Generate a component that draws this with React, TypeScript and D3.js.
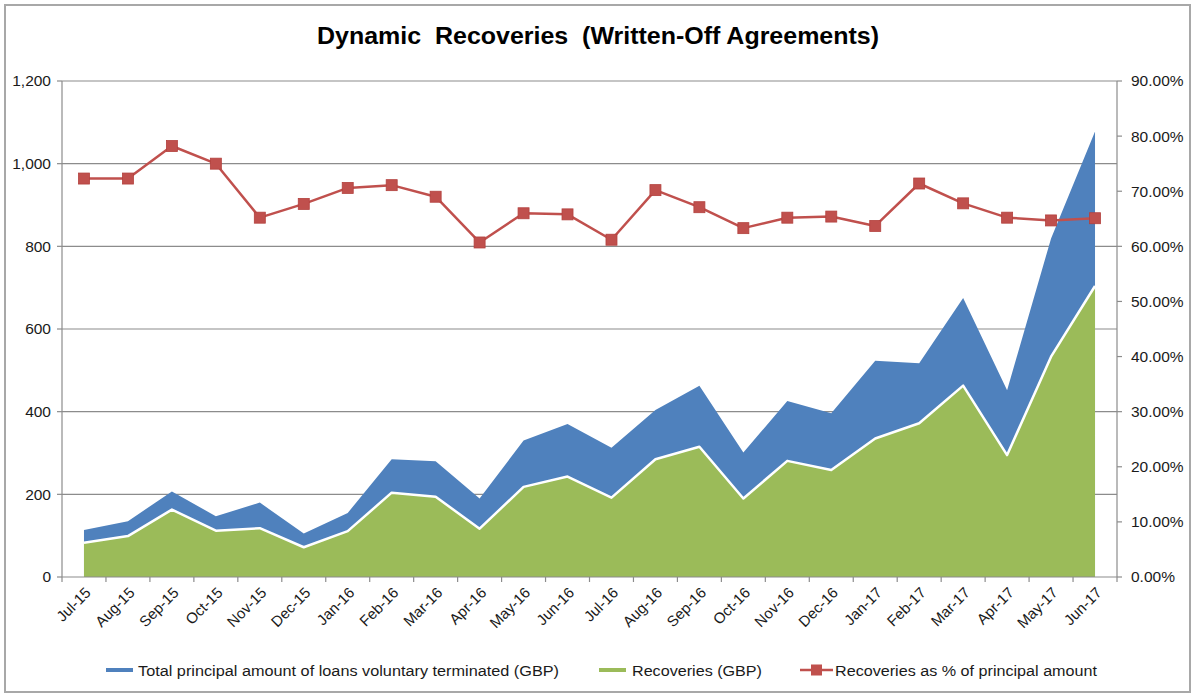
import React from "react";
import * as d3 from "d3";

const months = [
  "Jul-15", "Aug-15", "Sep-15", "Oct-15", "Nov-15", "Dec-15",
  "Jan-16", "Feb-16", "Mar-16", "Apr-16", "May-16", "Jun-16",
  "Jul-16", "Aug-16", "Sep-16", "Oct-16", "Nov-16", "Dec-16",
  "Jan-17", "Feb-17", "Mar-17", "Apr-17", "May-17", "Jun-17",
];
const totalPrincipal = [114, 135, 207, 147, 180, 105, 155, 285, 280, 190, 330, 370, 313, 404, 463, 301, 426, 396, 523, 517, 675, 452, 819, 1078];
const recoveries = [83, 99, 163, 112, 118, 72, 111, 204, 194, 117, 218, 243, 192, 285, 315, 190, 281, 259, 335, 372, 463, 295, 533, 704];
const recoveryPct = [72.3, 72.3, 78.2, 75.0, 65.2, 67.7, 70.6, 71.1, 69.0, 60.7, 66.0, 65.8, 61.2, 70.2, 67.1, 63.3, 65.2, 65.4, 63.7, 71.4, 67.8, 65.2, 64.7, 65.1];
const leftTicks = [0, 200, 400, 600, 800, 1000, 1200];
const rightTicks = [0, 10, 20, 30, 40, 50, 60, 70, 80, 90];
const seriesNames = [
  "Total principal amount of loans voluntary terminated (GBP)",
  "Recoveries (GBP)",
  "Recoveries as % of principal amount",
];
const title = "Dynamic\u00a0 Recoveries\u00a0 (Written-Off Agreements)";

const FONT = "'Liberation Sans', Arial, sans-serif";
const BLUE = "#4F81BD";
const GREEN = "#9BBB59";
const RED = "#C0504D";
const GRID = "#8C8C8C";
const TXT = "#1a1a1a";

export default function App() {
  const left = 62, right = 1117, top = 81, bottom = 577;
  const x = d3.scaleBand<string>().domain(months).range([left, right]);
  const cx = (i: number) => (x(months[i]) as number) + x.bandwidth() / 2;
  const yL = d3.scaleLinear().domain([0, 1200]).range([bottom, top]);
  const yR = d3.scaleLinear().domain([0, 90]).range([bottom, top]);

  const area = d3.area<number>().x((_, i) => cx(i)).y0(bottom).y1((d) => yL(d));
  const topLine = d3.line<number>().x((_, i) => cx(i)).y((d) => yL(d));
  const pctLine = d3.line<number>().x((_, i) => cx(i)).y((d) => yR(d));
  const fmtL = d3.format(",");

  const edges = months.map((m) => x(m) as number).concat([right]);

  return (
    <svg width={1197} height={695} style={{ position: "absolute", left: 0, top: 0, background: "#fff" }} fontFamily={FONT}>
      <rect x={0} y={0} width={1197} height={695} fill="#fff" />
      <rect x={5} y={5} width={1185} height={687} fill="none" stroke="#A8A8A8" strokeWidth={2} />
      <text x={598} y={44} textAnchor="middle" fontSize={23} fontWeight="bold" fill="#000" textLength={562} lengthAdjust="spacingAndGlyphs">{title}</text>

      {/* gridlines */}
      {leftTicks.filter((t) => t > 0).map((t) => (
        <line key={"g" + t} x1={left} x2={right} y1={yL(t)} y2={yL(t)} stroke={GRID} strokeWidth={1.2} />
      ))}

      {/* areas */}
      <path d={area(totalPrincipal) as string} fill={BLUE} />
      <path d={area(recoveries) as string} fill={GREEN} />
      <path d={topLine(recoveries) as string} fill="none" stroke="#fff" strokeWidth={2.5} strokeLinejoin="round" />

      {/* axes */}
      <line x1={left} x2={left} y1={top} y2={bottom} stroke={GRID} strokeWidth={1.2} />
      <line x1={right} x2={right} y1={top} y2={bottom} stroke={GRID} strokeWidth={1.2} />
      <line x1={left} x2={right} y1={bottom} y2={bottom} stroke={GRID} strokeWidth={1.2} />
      {leftTicks.map((t) => (
        <g key={"l" + t}>
          <line x1={left - 5} x2={left} y1={yL(t)} y2={yL(t)} stroke={GRID} strokeWidth={1.2} />
          <text x={51} y={yL(t)} dy="0.35em" textAnchor="end" fontSize={15.5} fill={TXT}>{fmtL(t)}</text>
        </g>
      ))}
      {rightTicks.map((t) => (
        <g key={"r" + t}>
          <line x1={right} x2={right + 5} y1={yR(t)} y2={yR(t)} stroke={GRID} strokeWidth={1.2} />
          <text x={1131} y={yR(t)} dy="0.35em" textAnchor="start" fontSize={15.5} fill={TXT}>{t.toFixed(2) + "%"}</text>
        </g>
      ))}
      {edges.map((e, i) => (
        <line key={"t" + i} x1={e} x2={e} y1={bottom} y2={bottom + 5} stroke={GRID} strokeWidth={1.2} />
      ))}
      {months.map((m, i) => (
        <text key={"x" + m} transform={`translate(${cx(i) + 4},${bottom + 13}) rotate(-45)`} textAnchor="end" dy="0.35em" fontSize={15} fill={TXT}>{m}</text>
      ))}

      {/* percentage line */}
      <path d={pctLine(recoveryPct) as string} fill="none" stroke={RED} strokeWidth={2.5} strokeLinejoin="round" />
      {recoveryPct.map((p, i) => (
        <rect key={"m" + i} x={cx(i) - 5.5} y={yR(p) - 5.5} width={11} height={11} fill={RED} stroke="#B3413E" strokeWidth={0.8} />
      ))}

      {/* legend */}
      <line x1={106} x2={133} y1={670} y2={670} stroke={BLUE} strokeWidth={4} />
      <text x={138} y={676} fontSize={15.5} fill={TXT} textLength={421} lengthAdjust="spacingAndGlyphs">{seriesNames[0]}</text>
      <line x1={599} x2={626} y1={670} y2={670} stroke={GREEN} strokeWidth={4} />
      <text x={632} y={676} fontSize={15.5} fill={TXT} textLength={130} lengthAdjust="spacingAndGlyphs">{seriesNames[1]}</text>
      <line x1={800} x2={833} y1={670} y2={670} stroke={RED} strokeWidth={2.5} />
      <rect x={811} y={664.5} width={11} height={11} fill={RED} />
      <text x={835} y={676} fontSize={15.5} fill={TXT} textLength={262} lengthAdjust="spacingAndGlyphs">{seriesNames[2]}</text>
    </svg>
  );
}
